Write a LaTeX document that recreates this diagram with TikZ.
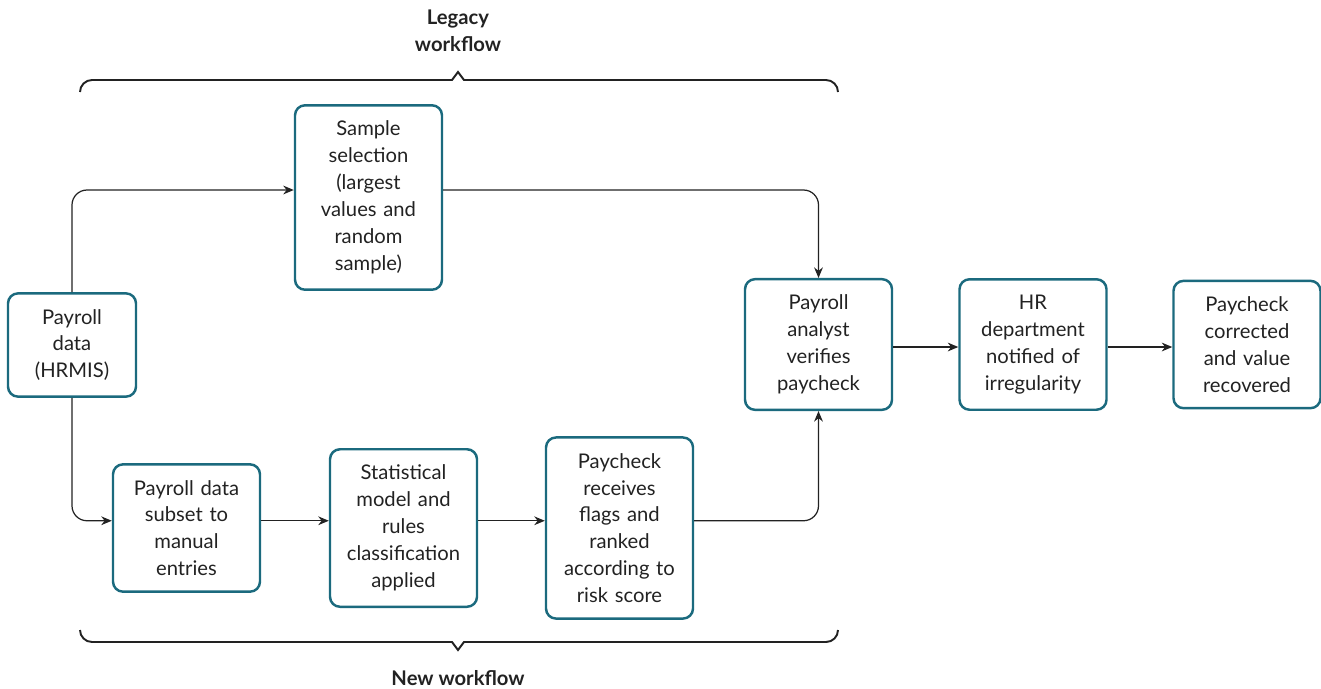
\documentclass[tikz,border=0pt]{standalone}
\usepackage{fontspec}
\setmainfont{Lato}
\usetikzlibrary{arrows.meta}
\definecolor{boxteal}{HTML}{1B6A7E}
\definecolor{inkgray}{HTML}{222222}

\begin{document}
\begin{tikzpicture}[node distance=43mm, font=\fontsize{11.5}{15.3}\selectfont, color=inkgray,
  block/.style={rectangle, draw=boxteal, line width=1.4pt, rounded corners=2mm, text=inkgray, text width=26mm, minimum width=29.4mm, inner ysep=9pt, align=center},
  flowarrow/.style={-{Stealth[length=6pt, width=5pt]}, line width=0.7pt, draw=inkgray, rounded corners=3mm},
  bracket/.style={line width=1.1pt, draw=inkgray},
  heading/.style={font=\fontsize{11.5}{15.3}\selectfont\bfseries, align=center, text=inkgray}]

  \useasboundingbox (0,0) rectangle (26.42,-13.76);

  \node[block, text width=23mm, minimum width=25.6mm] (paydata) at (1.44,-6.90) {Payroll\\data\\(HRMIS)};
  \node[block] (sample) at (7.37,-3.95) {Sample\\selection\\(largest\\values and\\random\\sample)};
  \node[block] (subset) at (3.73,-10.56) {Payroll data\\subset to\\manual\\entries};
  \node[block, right of=subset, node distance=43.4mm] (model) {Statistical\\model and\\rules\\classification\\applied};
  \node[block, right of=model, node distance=43.2mm] (flags) {Paycheck\\receives\\flags and\\ranked\\according to\\risk score};
  \node[block] (analyst) at (16.37,-6.89) {Payroll\\analyst\\verifies\\paycheck};
  \node[block, right of=analyst, node distance=42.9mm] (hrdept) {HR\\department\\notified of\\irregularity};
  \node[block, right of=hrdept, node distance=42.8mm] (corrected) {Paycheck\\corrected\\and value\\recovered};

  % legacy workflow
  \draw[flowarrow] (paydata.north) |- ([yshift=1.5mm]sample.west);
  \draw[flowarrow] ([yshift=1.5mm]sample.east) -| (analyst.north);

  % new workflow
  \draw[flowarrow] (paydata.south) |- ([yshift=1.45mm]subset.west);
  \draw[flowarrow] ([yshift=1.45mm]subset.east) -- ([yshift=1.45mm]subset.east -| model.west);
  \draw[flowarrow] ([yshift=1.45mm]subset.east -| model.east) -- ([yshift=1.45mm]subset.east -| flags.west);
  \draw[flowarrow] ([yshift=1.45mm]subset.east -| flags.east) -| (analyst.south);

  \draw[flowarrow] ([yshift=-0.5mm]analyst.east) -- ([yshift=-0.5mm]hrdept.west);
  \draw[flowarrow] ([yshift=-0.5mm]hrdept.east) -- ([yshift=-0.5mm]corrected.west);

  % braces
  \coordinate (legacytip) at (9.16,-1.44);
  \coordinate (newtip) at (9.16,-13.0);
  \draw[bracket] (1.6,-1.84) arc[start angle=180, end angle=90, radius=0.24] -- ([xshift=-1.2mm]legacytip |- 0,-1.6) -- (legacytip) -- ([xshift=1.2mm]legacytip |- 0,-1.6) -- (16.52,-1.6) arc[start angle=90, end angle=0, radius=0.24];
  \draw[bracket] (1.6,-12.6) arc[start angle=180, end angle=270, radius=0.24] -- ([xshift=-1.2mm]newtip |- 0,-12.84) -- (newtip) -- ([xshift=1.2mm]newtip |- 0,-12.84) -- (16.52,-12.84) arc[start angle=270, end angle=360, radius=0.24];

  \node[heading] (legacy) at (9.16,-0.61) {Legacy\\workflow};
  \node[heading] (newflow) at (9.16,-13.56) {New workflow};
\end{tikzpicture}
\end{document}
